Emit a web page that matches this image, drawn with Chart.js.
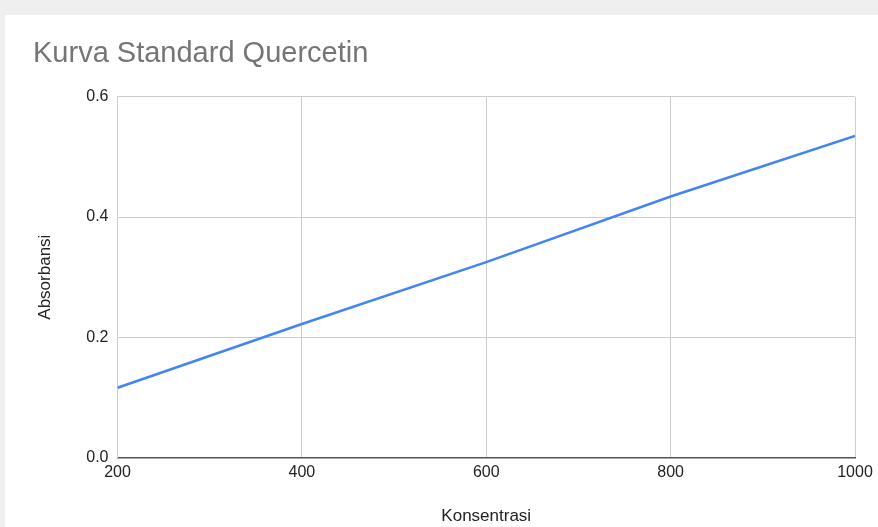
<!DOCTYPE html>
<html>
<head>
<meta charset="utf-8">
<script src="https://cdn.jsdelivr.net/npm/chart.js@4.4.1/dist/chart.umd.min.js"></script>
<style>
  html, body { margin: 0; padding: 0; }
  body { width: 878px; height: 527px; background: #efefef; position: relative; overflow: hidden; }
  #card { position: absolute; left: 5px; top: 15px; right: 0; bottom: 0; background: #fff; }
  #chart { position: absolute; left: 0; top: 0; }
</style>
</head>
<body>
<div id="card"></div>
<canvas id="chart" width="878" height="527"></canvas>
<script>
"use strict";
/* data */
var konsentrasi = [200, 400, 600, 800, 1000];
var absorbansi = [0.116, 0.222, 0.325, 0.434, 0.535];
var xTicks = [200, 400, 600, 800, 1000];
var yTicks = [0.0, 0.2, 0.4, 0.6];

var FONT = "'Liberation Sans', Arial, sans-serif";

var points = [];
for (var i = 0; i < konsentrasi.length; i++) {
    points.push({ x: konsentrasi[i], y: absorbansi[i] });
}

var ctx = document.getElementById("chart");
var chart = new Chart(ctx, {
    type: "line",
    data: {
        datasets: [{
            label: "Absorbansi",
            data: points,
            borderColor: "#4285f4",
            borderWidth: 2.6,
            pointRadius: 0,
            tension: 0,
            fill: false
        }]
    },
    options: {
        responsive: false,
        animation: false,
        devicePixelRatio: 1,
        layout: { padding: { left: 33, right: 23, top: 0, bottom: 0 } },
        plugins: {
            legend: { display: false },
            tooltip: { enabled: false },
            title: {
                display: true,
                text: "Kurva Standard Quercetin",
                align: "start",
                color: "#757575",
                font: { family: FONT, size: 29, weight: "normal" },
                padding: { top: 37, bottom: 25 }
            }
        },
        scales: {
            x: {
                type: "linear",
                min: xTicks[0],
                max: xTicks[xTicks.length - 1],
                afterBuildTicks: function (s) {
                    s.ticks = xTicks.map(function (v) { return { value: v }; });
                },
                afterFit: function (s) { s.height = 69.5; },
                ticks: {
                    color: "#222",
                    font: { family: FONT, size: 16 },
                    padding: 5,
                    maxRotation: 0,
                    callback: function (v) { return String(v); }
                },
                grid: { color: "#cccccc", drawTicks: false },
                border: { color: "#555", width: 1.5 },
                title: {
                    display: true,
                    text: "Konsentrasi",
                    color: "#222",
                    font: { family: FONT, size: 17 },
                    padding: { top: 0, bottom: 0 }
                }
            },
            y: {
                min: 0,
                max: 0.6,
                afterBuildTicks: function (s) {
                    s.ticks = yTicks.map(function (v) { return { value: v }; });
                },
                afterFit: function (s) { s.width = 84.5; },
                ticks: {
                    color: "#222",
                    font: { family: FONT, size: 16 },
                    padding: 9,
                    callback: function (v) { return Number(v).toFixed(1); }
                },
                grid: { color: "#cccccc", drawTicks: false },
                border: { color: "#cccccc" },
                title: {
                    display: true,
                    text: "Absorbansi",
                    color: "#222",
                    font: { family: FONT, size: 17 },
                    padding: { top: 2, bottom: 0 }
                }
            }
        }
    }
});
</script>
</body>
</html>
